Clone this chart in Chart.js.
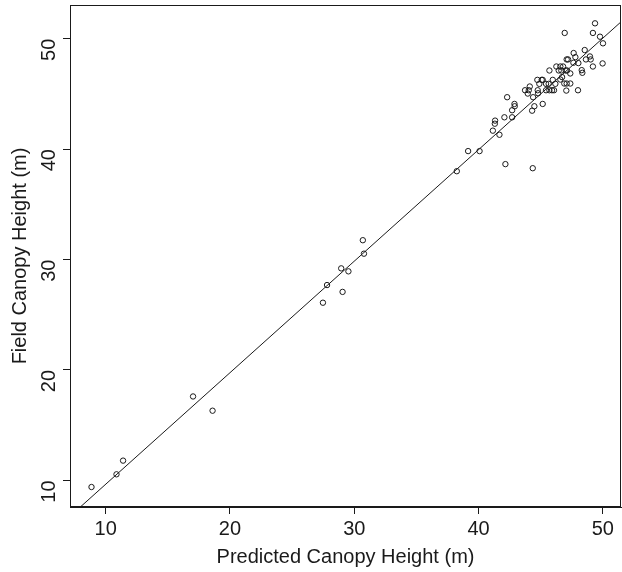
<!DOCTYPE html>
<html><head><meta charset="utf-8">
<script src="https://cdn.jsdelivr.net/npm/chart.js@4.4.0/dist/chart.umd.min.js"></script>
<style>html,body{margin:0;padding:0;background:#fff}#wrap{width:622px;height:572px;position:relative}</style>
</head><body><div id="wrap"><canvas id="c" width="622" height="572"></canvas></div>
<script>
const predicted = [8.86,10.87,11.4,17.03,18.6,
  27.48,27.81,28.95,29.06,29.53,30.69,30.78,
  49.37,46.93,49.2,49.77,50.01,48.54,47.65,47.79,48.64,48.96,49.02,47.09,47.2,49.98,49.2,48.03,47.63,
  46.26,46.58,46.8,46.45,46.66,47.01,47.12,45.7,48.3,48.35,47.38,46.72,46.58,45.97,44.73,45.08,45.16,
  44.89,45.43,45.64,46.18,46.9,47.09,47.38,44.12,43.74,44.04,44.76,45.43,45.7,45.91,46.07,47.06,48.0,
  43.96,44.79,44.39,42.3,42.89,42.91,42.7,44.49,44.31,45.16,42.08,42.7,41.33,41.31,41.15,41.68,
  39.16,40.08,38.25,42.16,44.36];
const field = [9.4,10.55,11.79,17.6,16.31,
  26.09,27.69,29.2,27.07,28.93,31.75,30.53,
  51.39,50.52,50.52,50.18,49.58,48.97,48.7,48.33,48.12,48.39,48.12,48.12,48.12,47.76,47.48,47.79,47.82,
  47.48,47.48,47.48,47.12,47.12,47.12,47.12,47.12,47.15,46.91,46.85,46.52,46.3,46.27,46.27,46.27,46.27,
  45.91,45.91,45.91,45.91,45.94,45.94,45.94,45.67,45.33,45.33,45.33,45.33,45.33,45.33,45.33,45.3,45.33,
  45.03,45.06,44.7,44.7,44.09,43.88,43.52,43.88,43.48,44.09,42.88,42.88,42.58,42.3,41.67,41.3,
  39.82,39.82,38.0,38.64,38.27];
const xTicks = [10,20,30,40,50];
const yTicks = [10,20,30,40,50];
const xRange = [7.13, 51.46];
const yRange = [7.59, 53.05];
const fitIntercept = -0.45;
const fitSlope = 1.01;

const ink = '#1a1a1a';
const font = {family: '"Liberation Sans", Arial, sans-serif', size: 20};
const points = predicted.map((x, i) => ({x: x, y: field[i]}));
const fitLine = xRange.map(x => ({x: x, y: fitIntercept + fitSlope * x}));

const boxPlugin = {
  id: 'box',
  afterDraw(chart) {
    const a = chart.chartArea, ctx = chart.ctx;
    ctx.save();
    ctx.strokeStyle = ink; ctx.lineWidth = 1;
    ctx.strokeRect(Math.round(a.left) + 0.5, Math.round(a.top) + 0.5, Math.round(a.right - a.left) - 1, Math.round(a.bottom - a.top) - 1);
    ctx.restore();
  }
};

const noPad = s => { s.paddingTop = 0; s.paddingBottom = 0; s.paddingLeft = 0; s.paddingRight = 0; };

new Chart(document.getElementById('c'), {
  type: 'scatter',
  data: {datasets: [
    {data: points, pointStyle: 'circle', pointRadius: 2.7, borderColor: ink, borderWidth: 1, backgroundColor: 'rgba(0,0,0,0)', showLine: false},
    {type: 'line', data: fitLine, borderColor: ink, borderWidth: 1, pointRadius: 0, fill: false}
  ]},
  options: {
    responsive: false, animation: false, devicePixelRatio: 1,
    layout: {autoPadding: false, padding: {top: 5, right: 1, left: 0, bottom: 0}},
    plugins: {legend: {display: false}, tooltip: {enabled: false}},
    scales: {
      x: {type: 'linear', min: xRange[0], max: xRange[1],
        afterBuildTicks: s => { s.ticks = xTicks.map(v => ({value: v})); },
        afterFit: s => { s.height = 65; noPad(s); },
        grid: {display: true, drawOnChartArea: false, drawTicks: true, tickLength: 7, color: ink},
        border: {display: true, color: ink},
        ticks: {color: ink, font: font, padding: 3, maxRotation: 0},
        title: {display: true, text: 'Predicted Canopy Height (m)', color: ink, font: font, padding: {top: 2, bottom: 3}}
      },
      y: {type: 'linear', min: yRange[0], max: yRange[1],
        afterBuildTicks: s => { s.ticks = yTicks.map(v => ({value: v})); },
        afterFit: s => { s.width = 70; noPad(s); },
        grid: {display: true, drawOnChartArea: false, drawTicks: true, tickLength: 7, color: ink},
        border: {display: true, color: ink},
        ticks: {color: ink, font: font, padding: 14, minRotation: 90, maxRotation: 90},
        title: {display: true, text: 'Field Canopy Height (m)', color: ink, font: font, padding: {top: 8, bottom: 0}}
      }
    }
  },
  plugins: [boxPlugin]
});
</script></body></html>
